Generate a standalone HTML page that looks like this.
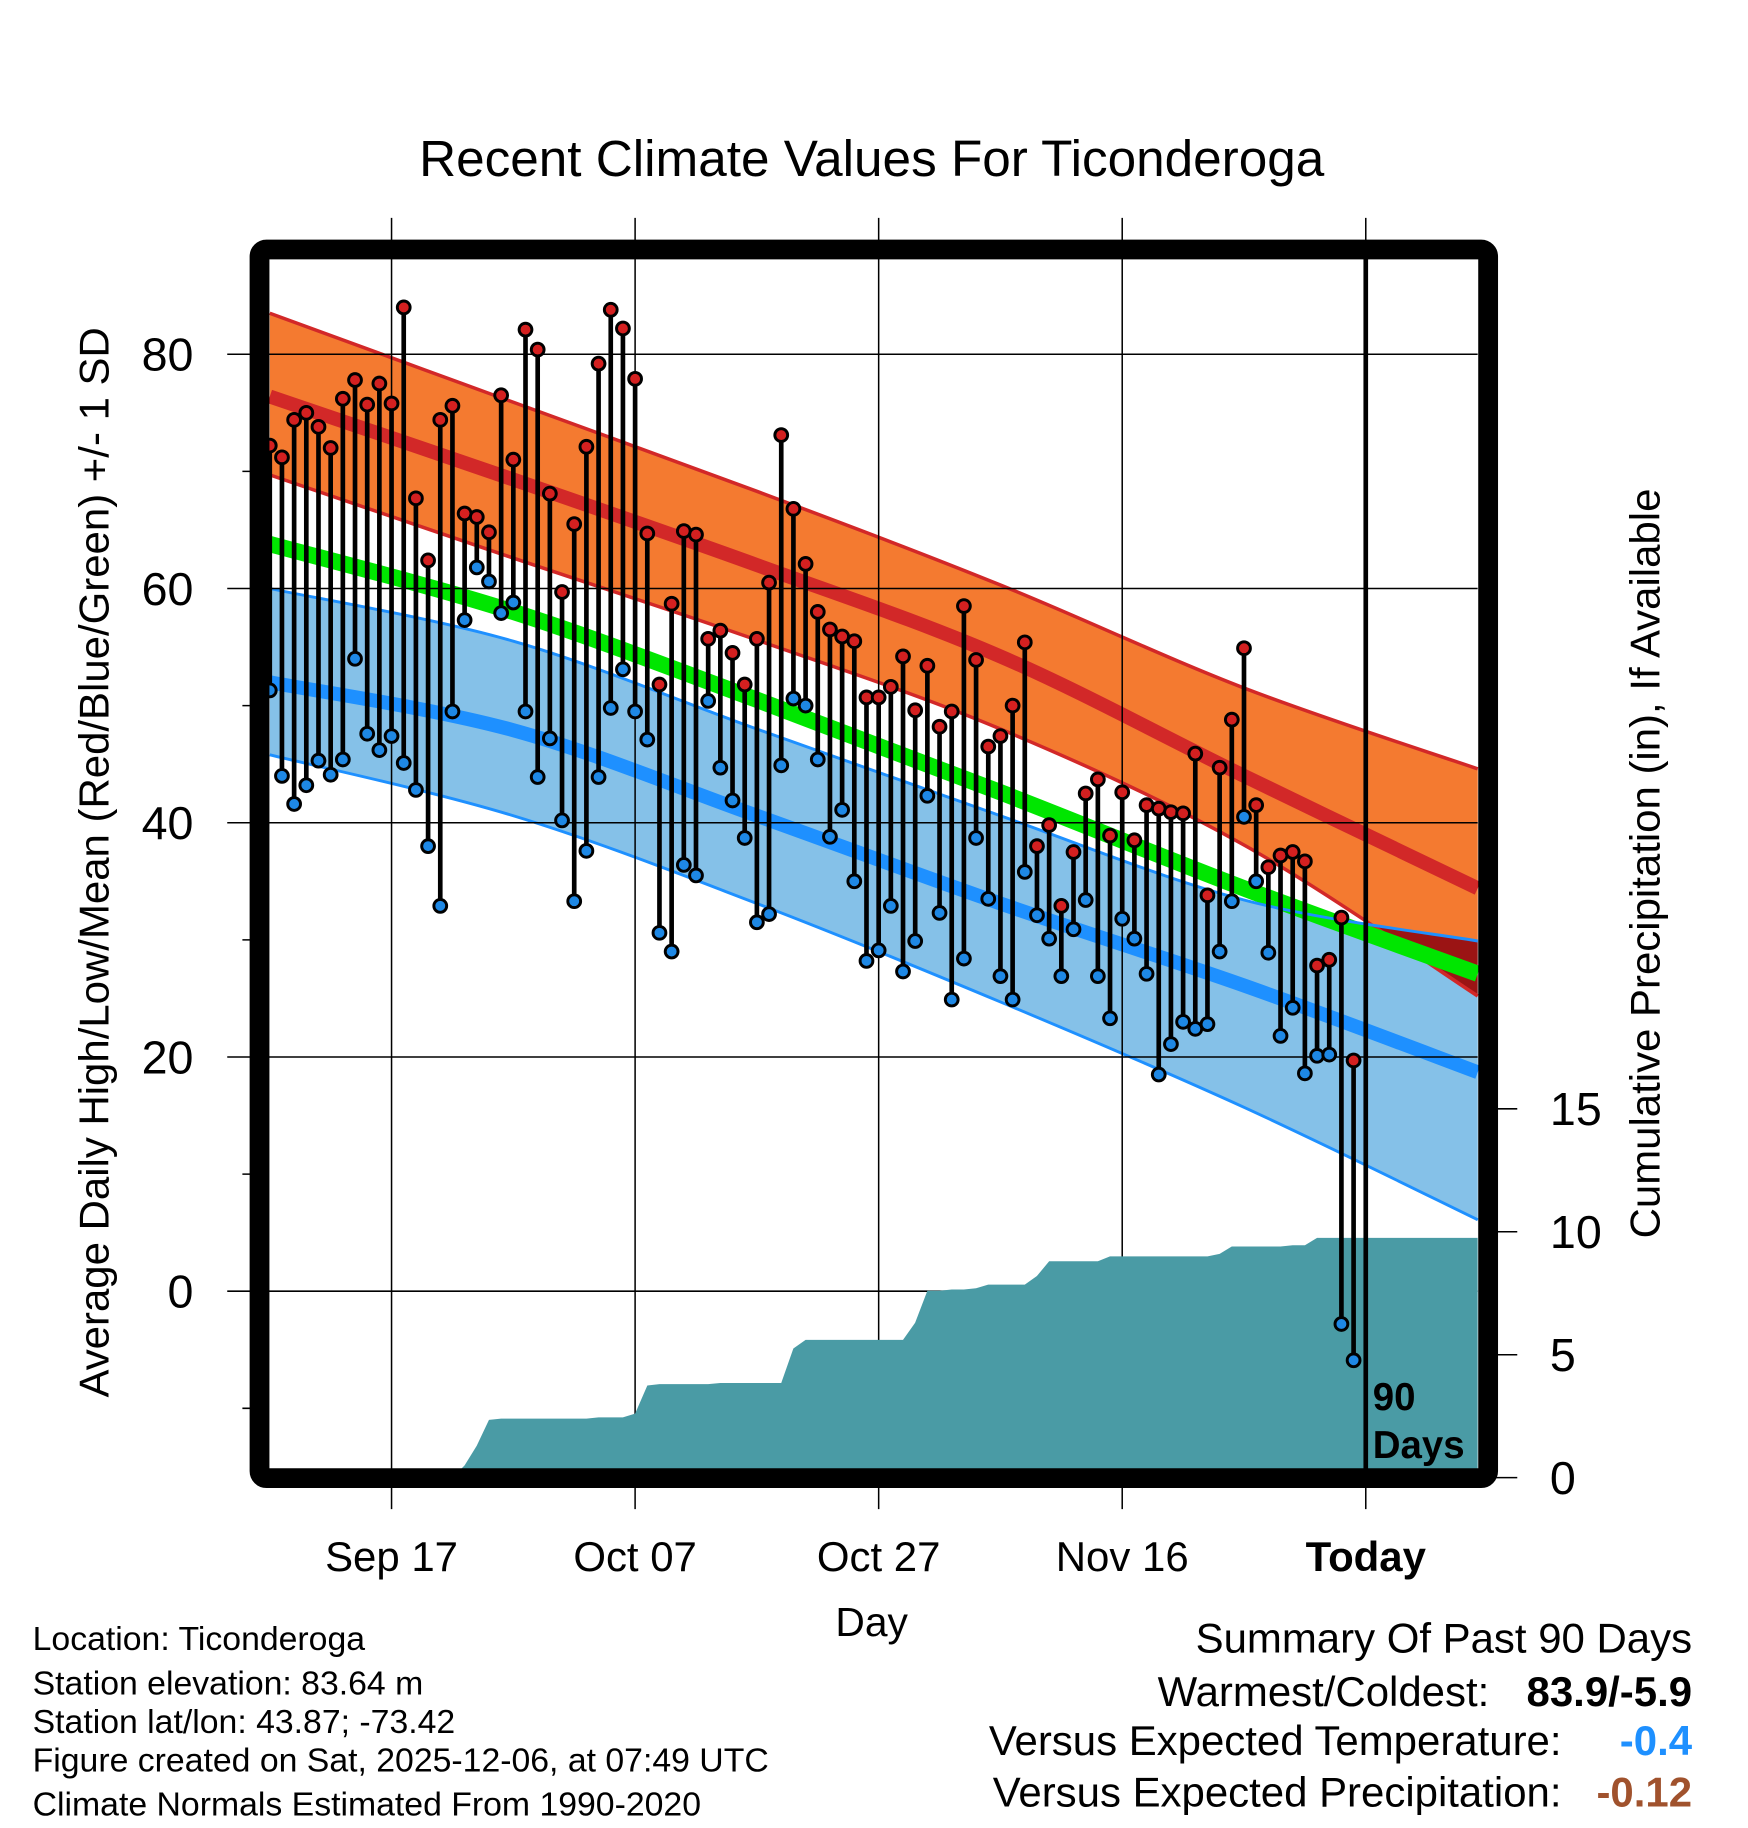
<!DOCTYPE html>
<html><head><meta charset="utf-8"><style>
html,body{margin:0;padding:0;background:#fff}
svg{display:block}
text{font-family:"Liberation Sans",sans-serif}
</style></head><body>
<svg id="chart" xmlns="http://www.w3.org/2000/svg" width="1748" height="1828" viewBox="0 0 1500 1568.65">
<defs><clipPath id="lowclip"><path id="lowclipPath" d=""/></clipPath></defs>
<rect width="1500" height="1568.65" fill="#fff"/>
<g id="bands"></g>
<g id="grid"></g>
<g id="precip"></g>
<g id="obs"></g>
<rect x="222.7" y="214.1" width="1054.3" height="1054.3" rx="6" fill="none" stroke="#000" stroke-width="17"/>
<line x1="1172" y1="218" x2="1172" y2="1265" stroke="#000" stroke-width="4"/>
<text x="1178" y="1210" font-size="33" font-weight="bold">90</text>
<text x="1178" y="1251" font-size="33" font-weight="bold">Days</text>
<g id="axes"></g>
<text x="748" y="151" font-size="44" text-anchor="middle">Recent Climate Values For Ticonderoga</text>
<text transform="translate(93,740) rotate(-90)" font-size="36" text-anchor="middle">Average Daily High/Low/Mean (Red/Blue/Green) +/- 1 SD</text>
<text transform="translate(1424,741) rotate(-90)" font-size="36" text-anchor="middle">Cumulative Precipitation (in), If Available</text>
<text x="748" y="1404" font-size="35" text-anchor="middle">Day</text>
<g font-size="29">
<text x="28" y="1416">Location: Ticonderoga</text>
<text x="28" y="1454">Station elevation: 83.64 m</text>
<text x="28" y="1487">Station lat/lon: 43.87; -73.42</text>
<text x="28" y="1520">Figure created on Sat, 2025-12-06, at 07:49 UTC</text>
<text x="28" y="1558">Climate Normals Estimated From 1990-2020</text>
</g>
<g font-size="36">
<text x="1452" y="1418" text-anchor="end">Summary Of Past 90 Days</text>
<text x="1278" y="1464" text-anchor="end">Warmest/Coldest:</text>
<text x="1452" y="1464" text-anchor="end" font-weight="bold">83.9/-5.9</text>
<text x="1340" y="1506" text-anchor="end">Versus Expected Temperature:</text>
<text x="1452" y="1506" text-anchor="end" font-weight="bold" fill="#1e90ff">-0.4</text>
<text x="1340" y="1550" text-anchor="end">Versus Expected Precipitation:</text>
<text x="1452" y="1550" text-anchor="end" font-weight="bold" fill="#a0522d">-0.12</text>
</g>
</svg>
<script>
const highs=[72.2,71.2,74.4,75,73.8,72,76.2,77.8,75.7,77.5,75.8,84,67.7,62.4,74.4,75.6,66.4,66.1,64.8,76.5,71,82.1,80.4,68.1,59.7,65.5,72.1,79.2,83.8,82.2,77.9,64.7,51.8,58.7,64.9,64.6,55.7,56.4,54.5,51.8,55.7,60.5,73.1,66.8,62.1,58,56.5,55.9,55.5,50.7,50.7,51.6,54.2,49.6,53.4,48.2,49.5,58.5,53.9,46.5,47.4,50,55.4,38,39.8,32.9,37.5,42.5,43.7,38.9,42.6,38.5,41.5,41.2,40.9,40.8,45.9,33.8,44.7,48.8,54.9,41.5,36.2,37.2,37.5,36.7,27.8,28.3,31.9,19.7];
const lows=[51.3,44,41.6,43.2,45.3,44.1,45.4,54,47.6,46.2,47.4,45.1,42.8,38,32.9,49.5,57.3,61.8,60.6,57.9,58.8,49.5,43.9,47.2,40.2,33.3,37.6,43.9,49.8,53.1,49.5,47.1,30.6,29,36.4,35.5,50.4,44.7,41.9,38.7,31.5,32.2,44.9,50.6,50,45.4,38.8,41.1,35,28.2,29.1,32.9,27.3,29.9,42.3,32.3,24.9,28.4,38.7,33.5,26.9,24.9,35.8,32.1,30.1,26.9,30.9,33.4,26.9,23.3,31.8,30.1,27.1,18.5,21.1,23,22.4,22.8,29,33.3,40.5,35,28.9,21.8,24.2,18.6,20.1,20.2,-2.8,-5.9];
const precipCum=[0,0,0,0,0,0,0,0,0,0,0,0,0,0,0,0,0.5,1.3,2.35,2.4,2.4,2.4,2.4,2.4,2.4,2.4,2.4,2.45,2.45,2.45,2.6,3.75,3.8,3.8,3.8,3.8,3.8,3.85,3.85,3.85,3.85,3.85,3.85,5.25,5.6,5.6,5.6,5.6,5.6,5.6,5.6,5.6,5.6,6.3,7.6,7.6,7.65,7.65,7.7,7.85,7.85,7.85,7.85,8.2,8.8,8.8,8.8,8.8,8.8,9.0,9.0,9.0,9.0,9.0,9.0,9.0,9.0,9.0,9.1,9.4,9.4,9.4,9.4,9.4,9.45,9.45,9.75,9.75,9.75,9.75];
const normDays=[0,20,40,60,80,99.2];
const normHighUp=[83.5,75.9,68.3,60.3,51.5,44.6];
const normHighMean=[76.4,69.3,62,54.2,44,34.4];
const normHighLow=[69.7,62.6,55.6,48,38.1,25.2];
const normMean=[63.8,58,50.5,42.6,34.4,27.1];
const normLowUp=[60,55.5,48,40.6,33.4,29.9];
const normLowMean=[52,47.9,40.6,33.1,26.1,18.7];
const normLowLow=[45.8,40.6,33.1,24.7,15.7,6.1];
const yTicks=[0,20,40,60,80];
const pTicks=[0,5,10,15];
const xTickDays=[10,30,50,70,90];
const xTickLabels=["Sep 17","Oct 07","Oct 27","Nov 16","Today"];

const NS="http://www.w3.org/2000/svg";
const X=d=>231.5+10.45*d;
const Y=t=>1108-10.05*t;
const P=p=>1268-21.1*p;
function mk(tag,attrs,parent){const e=document.createElementNS(NS,tag);for(const k in attrs)e.setAttribute(k,attrs[k]);parent.appendChild(e);return e;}
function pts(arr){return normDays.map((d,i)=>[X(d),Y(arr[i])]);}
function smooth(p,move){
  let s=(move?'M':'L')+p[0][0].toFixed(1)+','+p[0][1].toFixed(1);
  for(let i=0;i<p.length-1;i++){
    const p0=p[Math.max(0,i-1)],p1=p[i],p2=p[i+1],p3=p[Math.min(p.length-1,i+2)];
    const c1=[p1[0]+(p2[0]-p0[0])/6,p1[1]+(p2[1]-p0[1])/6];
    const c2=[p2[0]-(p3[0]-p1[0])/6,p2[1]-(p3[1]-p1[1])/6];
    s+='C'+c1.map(v=>v.toFixed(1)).join(',')+' '+c2.map(v=>v.toFixed(1)).join(',')+' '+p2.map(v=>v.toFixed(1)).join(',');
  }
  return s;
}
function line(arr){return smooth(pts(arr),true);}
function band(a,b){return smooth(pts(a),true)+smooth(pts(b).reverse(),false)+'Z';}
const bands=document.getElementById('bands');
let e;
document.getElementById('lowclipPath').setAttribute('d',band(normLowUp,normLowLow));
e=mk('path',{d:band(normHighUp,normHighLow),fill:'#f47a30'},bands);

e=mk('path',{d:line(normHighUp),fill:'none',stroke:'#d22828','stroke-width':3},bands);

e=mk('path',{d:line(normHighMean),fill:'none',stroke:'#d22828','stroke-width':12},bands);

e=mk('path',{d:band(normLowUp,normLowLow),fill:'#85c1e8'},bands);

e=mk('path',{d:band(normHighUp,normHighLow),fill:'#9b1414','clip-path':'url(#lowclip)'},bands);

e=mk('path',{d:line(normHighLow),fill:'none',stroke:'#d22828','stroke-width':3},bands);

e=mk('path',{d:line(normMean),fill:'none',stroke:'#00e600','stroke-width':14},bands);

e=mk('path',{d:line(normLowUp),fill:'none',stroke:'#1e90ff','stroke-width':2.5},bands);

e=mk('path',{d:line(normLowLow),fill:'none',stroke:'#1e90ff','stroke-width':2.5},bands);

e=mk('path',{d:line(normLowMean),fill:'none',stroke:'#1e90ff','stroke-width':12},bands);


const grid=document.getElementById('grid');
yTicks.forEach(t=>{e=mk('line',{x1:195,x2:1268,y1:Y(t),y2:Y(t),stroke:'#000','stroke-width':1.3},grid);
});
xTickDays.forEach(d=>{e=mk('line',{x1:X(d),x2:X(d),y1:187,y2:1295,stroke:'#000','stroke-width':1.3},grid);
});

const pg=document.getElementById('precip');
let pd='M'+X(0)+','+P(0);
precipCum.forEach((p,i)=>{pd+='L'+X(i).toFixed(1)+','+P(p).toFixed(1);});
pd+='L1268,'+P(precipCum[precipCum.length-1]).toFixed(1)+'L1268,1268L'+X(0)+',1268Z';
e=mk('path',{d:pd,fill:'#4a9ba5'},pg);


const obs=document.getElementById('obs');
highs.forEach((h,i)=>{e=mk('line',{x1:X(i),x2:X(i),y1:Y(h),y2:Y(lows[i]),stroke:'#000','stroke-width':4},obs);
});
highs.forEach((h,i)=>{e=mk('circle',{cx:X(i),cy:Y(h),r:5.5,fill:'#d42020',stroke:'#000','stroke-width':2.5},obs);

e=mk('circle',{cx:X(i),cy:Y(lows[i]),r:5.5,fill:'#1e88e5',stroke:'#000','stroke-width':2.5},obs);
});

const ax=document.getElementById('axes');
yTicks.forEach(t=>{e=mk('text',{x:166,y:Y(t)+14,'font-size':40,'text-anchor':'end'},ax);e.textContent=t;
});
[-10,10,30,50,70].forEach(t=>{e=mk('line',{x1:208,x2:222,y1:Y(t),y2:Y(t),stroke:'#000','stroke-width':1.3},ax);
});
pTicks.forEach(p=>{e=mk('line',{x1:1277,x2:1302,y1:P(p),y2:P(p),stroke:'#000','stroke-width':1.3},ax);

e=mk('text',{x:1330,y:P(p)+14,'font-size':40},ax);e.textContent=p;
});
xTickDays.forEach((d,i)=>{e=mk('text',{x:X(d),y:1348,'font-size':36,'text-anchor':'middle'},ax);
if(i===4)e.setAttribute('font-weight','bold');
e.textContent=xTickLabels[i];
});
</script>
</body></html>
